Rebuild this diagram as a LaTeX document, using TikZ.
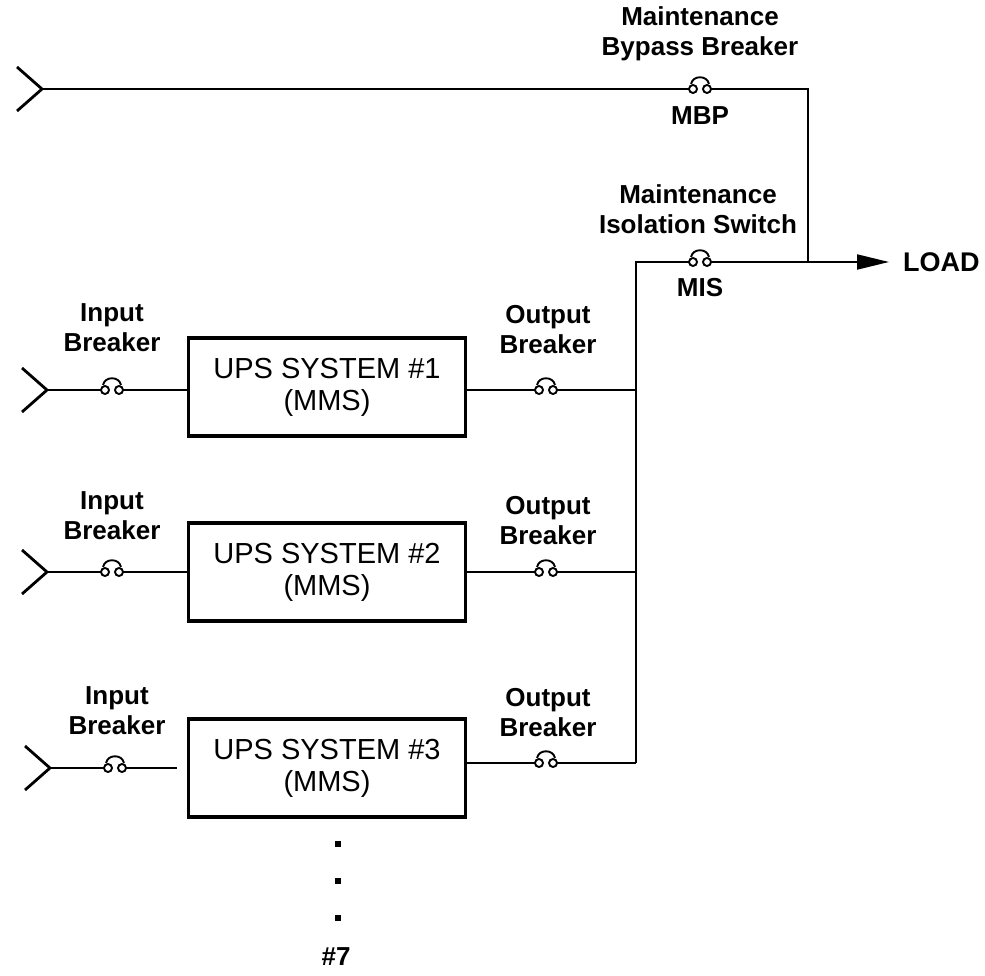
\documentclass[tikz,border=0pt]{standalone}
\usepackage{fontspec}
\setmainfont{Liberation Sans}
\usetikzlibrary{arrows.meta,calc}
\begin{document}
\begin{tikzpicture}[x=1pt,y=-1pt,
  wire/.style={line width=2pt},
  feed/.style={line width=2.8pt},
  ups/.style={draw, line width=3.8pt, minimum width=277pt, minimum height=98pt, inner sep=0pt, align=center, font=\fontsize{29}{32}\selectfont},
  lbl/.style={align=center, inner sep=0pt, font=\fontsize{26}{30}\selectfont\bfseries},
  brk/.style={inner sep=0pt, minimum width=22pt, minimum height=6pt},
  brksym/.style={line width=1.9pt},
  dotmark/.style={fill=black, minimum size=6pt, inner sep=0pt},
]
\useasboundingbox (0,0) rectangle (985,976);

% UPS boxes
\node[ups] (u1) at (327,387) {UPS SYSTEM \#1\\(MMS)};
\node[ups] (u2) at (327,572) {UPS SYSTEM \#2\\(MMS)};
\node[ups] (u3) at (327,768) {UPS SYSTEM \#3\\(MMS)};

% feed points
\coordinate (f0) at (42,89);
\coordinate (f1) at (47,390);
\coordinate (f2) at (47,572);
\coordinate (f3) at (50,768);
\foreach \f in {f0,f1,f2,f3}
  \draw[feed] (\f) -- ++(-25,-22) (\f) -- ++(-25,22);

% breakers
\node[brk] (mbp) at (700,89) {};
\node[brk] (mis) at (700,262) {};
\node[brk] (ib1) at (112,390) {};
\node[brk] (ib2) at (112,572) {};
\node[brk] (ib3) at (115,768) {};
\node[brk] (ob1) at (546,390) {};
\node[brk] (ob2) at (546,572) {};
\node[brk] (ob3) at (546,763) {};
\foreach \b in {mbp,mis,ib1,ib2,ib3,ob1,ob2,ob3} {
  \draw[brksym] ($(\b.center)+(-7,0)$) circle (4pt);
  \draw[brksym] ($(\b.center)+(7,0)$) circle (4pt);
  \draw[brksym] ($(\b.center)+(-9,-5)$) .. controls ($(\b.center)+(-7,-14)$) and ($(\b.center)+(7,-14)$) .. ($(\b.center)+(9,-5)$);
}

% junctions
\coordinate (c1) at (808,89);
\coordinate (j) at (808,262);
\coordinate (bt) at (636,262);
\coordinate (bb) at (636,763);
\coordinate (e3) at (177,768);

% bypass and isolation
\draw[wire] (f0) -- (mbp.west);
\draw[wire] (mbp.east) -- (c1) -- (j);
\draw[wire] (bb) -- (bt) -- (mis.west);
\draw[wire] (mis.east) -- (j);
\node[inner sep=0pt, anchor=west, font=\fontsize{27}{30}\selectfont\bfseries] (load) at (903,262) {LOAD};
\draw[wire, -{Triangle[length=32pt,width=15pt]}] (j) -- ([xshift=-14pt]load.west);

% inputs
\draw[wire] (f1) -- (ib1.west);
\draw[wire] (ib1.east) -- (u1.west |- ib1);
\draw[wire] (f2) -- (ib2.west);
\draw[wire] (ib2.east) -- (u2.west |- ib2);
\draw[wire] (f3) -- (ib3.west);
\draw[wire] (ib3.east) -- (e3);

% outputs
\draw[wire] (u1.east |- ob1) -- (ob1.west);
\draw[wire] (ob1.east) -- (ob1 -| bt);
\draw[wire] (u2.east |- ob2) -- (ob2.west);
\draw[wire] (ob2.east) -- (ob2 -| bt);
\draw[wire] (u3.east |- ob3) -- (ob3.west);
\draw[wire] (ob3.east) -- (bb);

% labels
\node[lbl] (lmbp) at (700,34) {Maintenance\\Bypass Breaker};
\node[lbl] (tmbp) at (700,116) {MBP};
\node[lbl] (lmis) at (698,209) {Maintenance\\Isolation Switch};
\node[lbl] (tmis) at (700,288) {MIS};
\node[lbl] (li1) at (112,328) {Input\\Breaker};
\node[lbl] (li2) at (112,516) {Input\\Breaker};
\node[lbl] (li3) at (117,711) {Input\\Breaker};
\node[lbl] (lo1) at (548,330) {Output\\Breaker};
\node[lbl] (lo2) at (548,521) {Output\\Breaker};
\node[lbl] (lo3) at (548,713) {Output\\Breaker};

% continuation dots
\node[dotmark] (d1) at (338,844) {};
\node[dotmark] (d2) at (338,881) {};
\node[dotmark] (d3) at (338,918) {};
\node[lbl] (n7) at (336,957) {\#7};
\end{tikzpicture}
\end{document}
